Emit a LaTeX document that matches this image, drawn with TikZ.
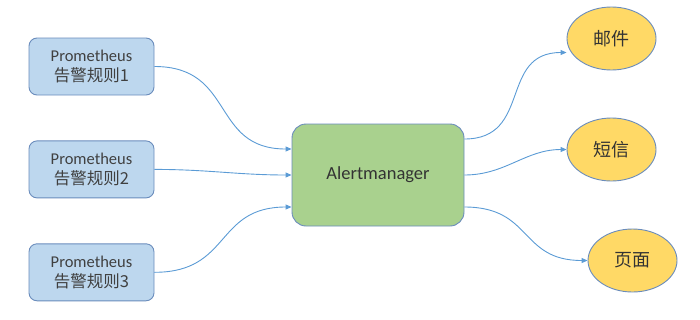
\documentclass[tikz,border=0pt]{standalone}
\usepackage{fontspec}
\setmainfont{Carlito}
\newfontfamily\cjk{Noto Sans CJK SC}
\usetikzlibrary{arrows.meta,positioning,shapes.geometric}
\definecolor{rulefill}{HTML}{BDD7EE}
\definecolor{hubfill}{HTML}{A9D18E}
\definecolor{sinkfill}{HTML}{FFD966}
\definecolor{rimblue}{HTML}{6A8CBC}
\definecolor{linkblue}{HTML}{5B9BD5}
\definecolor{textgray}{HTML}{404040}
\tikzset{
  rule/.style={rectangle, rounded corners=8pt, draw=rimblue, line width=0.9pt,
    fill=rulefill, align=center, inner sep=0pt, minimum width=125pt,
    minimum height=57pt, text=textgray, font=\fontsize{16.5}{20}\selectfont},
  hub/.style={rule, fill=hubfill, rounded corners=14pt, minimum width=172pt,
    minimum height=102pt, text=black!80, font=\fontsize{18.5}{20}\selectfont},
  sink/.style={ellipse, draw=rimblue, line width=0.9pt, fill=sinkfill,
    inner sep=0pt, minimum width=89pt, minimum height=63pt, text=black!80,
    font=\cjk\fontsize{18}{20}\selectfont},
  link/.style={-{Triangle[length=6pt,width=5pt]}, line width=0.9pt, draw=linkblue},
}
\begin{document}
\begin{tikzpicture}[x=1pt, y=-1pt, node distance=45pt]
  \useasboundingbox (0,0) rectangle (700,319);
  % alert rules
  \node[rule] (rule1) at (91.5,66.5) {Prometheus\\{\cjk 告警规则1}};
  \node[rule, below=of rule1] (rule2) {Prometheus\\{\cjk 告警规则2}};
  \node[rule, below=of rule2] (rule3) {Prometheus\\{\cjk 告警规则3}};
  \node[hub] (am) at (378,175) {Alertmanager};
  % receivers
  \node[sink] (mail) at (611.5,38.5) {邮件};
  \node[sink] (sms) at (611.5,149.5) {短信};
  \node[sink] (page) at (632.5,260.5) {页面};
  \draw[link] (rule1.east) to[out=0, in=180, looseness=1.3] ([yshift=26pt]am.west);
  \draw[link] (rule2.east) to[out=0, in=180] (am.west);
  \draw[link] (rule3.east) to[out=0, in=180, looseness=1.3] ([yshift=-32pt]am.west);
  \draw[link] ([yshift=36pt]am.east) to[out=0, in=180, looseness=1.3] ([yshift=-14pt]mail.west);
  \draw[link] (am.east) to[out=0, in=180] (sms.west);
  \draw[link] ([yshift=-32pt]am.east) to[out=0, in=180, looseness=1.3] (page.west);
\end{tikzpicture}
\end{document}
